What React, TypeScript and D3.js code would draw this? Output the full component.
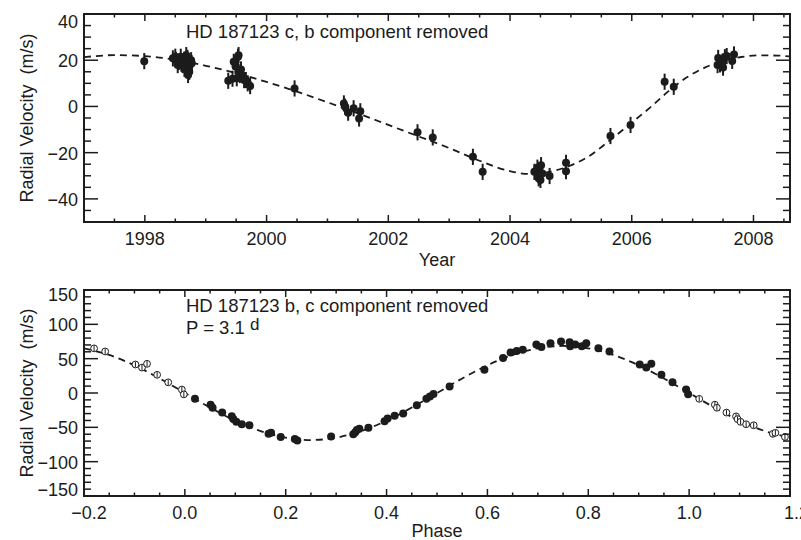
import React, { useEffect } from "react";
import * as d3 from "d3";

// ---------- Top panel: HD 187123 c (b removed) ----------
const TOP_YEARS = [
  1997.99, 1998.46, 1998.5, 1998.51, 1998.54, 1998.56, 1998.59, 1998.6, 1998.62, 1998.65,
  1998.65, 1998.68, 1998.7, 1998.7, 1998.73, 1998.73, 1998.71, 1998.76, 1998.77,
  1999.37, 1999.44, 1999.46, 1999.49, 1999.51, 1999.53, 1999.54, 1999.54, 1999.56, 1999.58,
  1999.63, 1999.66, 1999.69, 1999.73,
  2000.46,
  2001.27, 2001.29, 2001.34, 2001.43, 2001.54, 2001.52,
  2002.48, 2002.73,
  2003.39, 2003.55,
  2004.4, 2004.45, 2004.47, 2004.48, 2004.51, 2004.53, 2004.5, 2004.65,
  2004.92, 2004.92,
  2005.65, 2005.98,
  2006.54, 2006.69,
  2007.41, 2007.42, 2007.45, 2007.49, 2007.5, 2007.53, 2007.56, 2007.65, 2007.68,
];
const TOP_RV = [
  19.6, 20.8, 21.5, 20.1, 17.9, 19.3, 21.5, 18.5, 17.9, 20.3,
  16.3, 22.2, 19.3, 21.0, 17.2, 15.0, 13.6, 20.0, 18.7,
  11.1, 12.0, 19.3, 17.4, 12.2, 21.5, 22.2, 15.0, 13.6, 16.0,
  11.4, 11.4, 10.0, 8.8,
  7.8,
  1.3, -0.1, -2.7, -0.8, -2.1, -5.2,
  -11.2, -13.4,
  -21.8, -28.3,
  -28.3, -26.5, -31.1, -30.4, -25.4, -29.0, -31.8, -30.1,
  -24.4, -28.0,
  -12.8, -8.0,
  10.7, 8.5,
  17.9, 21.0, 18.2, 19.4, 16.8, 21.3, 21.8, 19.7, 22.5,
];
const TOP_ERR = 3.5;

// model curve
const TOP_CURVE_YEARS = [
  1997.0, 1997.5, 1998.0, 1998.5, 1999.0, 1999.5, 2000.0, 2000.5, 2001.0, 2001.5,
  2002.0, 2002.5, 2003.0, 2003.5, 2004.0, 2004.3, 2004.6, 2005.0, 2005.3, 2005.6,
  2006.0, 2006.3, 2006.6, 2006.9, 2007.2, 2007.5, 2007.8, 2008.1, 2008.4, 2008.6,
];
const TOP_CURVE_RV = [
  21.3, 22.2, 21.8, 20.2, 17.6, 14.4, 10.6, 6.4, 1.8, -3.0,
  -8.0, -13.0, -18.0, -23.5, -28.0, -29.2, -28.5, -25.5, -21.5, -15.5,
  -7.0, -0.5, 6.5, 12.5, 16.8, 19.8, 21.4, 22.1, 22.0, 21.6,
];

// ---------- Bottom panel: HD 187123 b (c removed), phased ----------
const PHASES = [
  0.02, 0.051, 0.055, 0.074, 0.093, 0.096, 0.102, 0.113, 0.128, 0.166,
  0.171, 0.19, 0.218, 0.223, 0.29, 0.334, 0.338, 0.341, 0.346, 0.364,
  0.396, 0.402, 0.416, 0.433, 0.46, 0.479, 0.486, 0.493, 0.525, 0.594,
  0.631, 0.646, 0.658, 0.67, 0.697, 0.707, 0.725, 0.746, 0.763, 0.764,
  0.774, 0.787, 0.796, 0.82, 0.842, 0.902, 0.915, 0.925, 0.945, 0.967,
  0.994, 0.998,
];
const PHASE_RV = [
  -8.5, -17, -21.5, -28.5, -34, -38, -42, -45.5, -47, -59.5,
  -58, -64, -67, -69, -63.5, -60, -57, -54, -52, -50.5,
  -41, -37, -33, -30, -18, -8.5, -5, -1.5, 9.5, 34,
  51, 59, 61, 63, 70.5, 67, 72.5, 75, 74, 68,
  70.5, 68, 72.5, 65, 60.5, 41.5, 37, 42.5, 26.5, 15.5,
  5, -2,
];
const PHASE_ERR = 4;

const PHASE_CURVE_X = [
  -0.2, -0.15, -0.1, -0.05, 0.0, 0.05, 0.1, 0.15, 0.2, 0.25, 0.3, 0.35, 0.4, 0.45, 0.5,
  0.55, 0.6, 0.65, 0.7, 0.75, 0.8, 0.85, 0.9, 0.95, 1.0, 1.05, 1.1, 1.15, 1.2,
];
const PHASE_CURVE_RV = [
  65, 55.4, 40.3, 21.2, 0, -21.2, -40.3, -55.4, -65.1, -68.5, -65.1, -55.4, -40.3, -21.2, 0,
  21.2, 40.3, 55.4, 65.1, 68.5, 65.1, 55.4, 40.3, 21.2, 0, -21.2, -40.3, -55.4, -65.1,
];

// ---------- ticks ----------
const TOP_XTICKS = [1998, 2000, 2002, 2004, 2006, 2008];
const TOP_YTICKS = [-40, -20, 0, 20, 40];
const BOT_XTICKS = [-0.2, 0, 0.2, 0.4, 0.6, 0.8, 1.0, 1.2];
const BOT_XLABELS = ["\u22120.2", "0.0", "0.2", "0.4", "0.6", "0.8", "1.0", "1.2"];
const BOT_YTICKS = [-150, -100, -50, 0, 50, 100, 150];

const W = 801;
const H = 540;
const L = 84;
const R = 790;
const FONT = "'Liberation Sans', Arial, Helvetica, sans-serif";
const INK = "#1c1c1c";

const fmtY = (v: number) => (v < 0 ? "\u2212" + Math.abs(v) : String(v));

function Frame({ x, y, xMinor, yMinor, xTicks, yTicks, xLabels, yLabelShift }: any) {
  const [x0, x1] = x.range();
  const [y1, y0] = y.range();
  const items: any[] = [];
  const xt = (v: number, len: number, k: string) => {
    const px = x(v);
    items.push(<line key={"xb" + k} x1={px} x2={px} y1={y1} y2={y1 - len} />);
    items.push(<line key={"xt" + k} x1={px} x2={px} y1={y0} y2={y0 + len} />);
  };
  const yt = (v: number, len: number, k: string) => {
    const py = y(v);
    items.push(<line key={"yl" + k} x1={x0} x2={x0 + len} y1={py} y2={py} />);
    items.push(<line key={"yr" + k} x1={x1} x2={x1 - len} y1={py} y2={py} />);
  };
  xMinor.forEach((v: number, i: number) => xt(v, 3.5, "m" + i));
  xTicks.forEach((v: number, i: number) => xt(v, 7, "M" + i));
  yMinor.forEach((v: number, i: number) => yt(v, 7, "m" + i));
  yTicks.forEach((v: number, i: number) => yt(v, 14, "M" + i));
  return (
    <g>
      <g stroke={INK} strokeWidth={1.5}>{items}</g>
      <rect x={x0} y={y0} width={x1 - x0} height={y1 - y0} fill="none" stroke={INK} strokeWidth={2} />
      <g fontFamily={FONT} fontSize={18} fill={INK}>
        {yTicks.map((v: number, i: number) => (
          <text key={"yl" + i} x={78} y={y(v) + 1 + yLabelShift(i)} textAnchor="end" dominantBaseline="central">
            {fmtY(v)}
          </text>
        ))}
        {xTicks.map((v: number, i: number) => {
          const last = i === xTicks.length - 1;
          const first = i === 0;
          const edge = last && v < 1.5;
          return (
            <text
              key={"xl" + i}
              x={x(v) + (first && v < 0 ? 5 : 0) + (edge ? -6 : 0)}
              y={y1 + 23}
              textAnchor={edge ? "start" : "middle"}
            >
              {xLabels[i]}
            </text>
          );
        })}
      </g>
    </g>
  );
}

export default function App() {
  useEffect(() => {
    document.body.style.margin = "0";
    document.body.style.overflow = "hidden";
  }, []);

  const xTop = d3.scaleLinear().domain([1997.0, 2008.6]).range([L, R]);
  const yTop = d3.scaleLinear().domain([-50, 40]).range([222, 14]);
  const xBot = d3.scaleLinear().domain([-0.2, 1.2]).range([L, R]);
  const yBot = d3.scaleLinear().domain([-150, 150]).range([496, 290]);

  const topLine = d3
    .line<number>()
    .x((d, i) => xTop(TOP_CURVE_YEARS[i]))
    .y((d) => yTop(d))
    .curve(d3.curveMonotoneX);
  const botLine = d3
    .line<number>()
    .x((d, i) => xBot(PHASE_CURVE_X[i]))
    .y((d) => yBot(d))
    .curve(d3.curveMonotoneX);

  const topMinorX = d3.range(1997.5, 2008.6, 0.5).filter((v) => Math.abs(v - Math.round(v / 2) * 2) > 0.01);
  const topMinorY = d3.range(-50, 41, 5).filter((v) => v % 20 !== 0);
  const botMinorX = d3.range(-0.2, 1.2001, 0.05).filter((v) => Math.abs(v / 0.2 - Math.round(v / 0.2)) > 0.01);
  const botMinorY = d3.range(-150, 151, 10).filter((v) => v % 50 !== 0);

  // repeated (open) points outside phase [0,1]
  const openPts: { p: number; v: number }[] = [];
  PHASES.forEach((p, i) => {
    if (p >= 0.8 && p - 1 >= -0.2) openPts.push({ p: p - 1, v: PHASE_RV[i] });
    if (p <= 0.2 && p + 1 <= 1.2) openPts.push({ p: p + 1, v: PHASE_RV[i] });
  });

  return (
    <svg
      width={W}
      height={H}
      viewBox={`0 0 ${W} ${H}`}
      style={{ position: "absolute", left: 0, top: 0, display: "block", background: "#fff" }}
    >
      <defs>
        <clipPath id="clipTop">
          <rect x={L} y={14} width={R - L} height={208} />
        </clipPath>
        <clipPath id="clipBot">
          <rect x={L} y={290} width={R - L} height={206} />
        </clipPath>
      </defs>
      <rect x={0} y={0} width={W} height={H} fill="#fff" />

      {/* ---------- top panel ---------- */}
      <g clipPath="url(#clipTop)">
        <path d={topLine(TOP_CURVE_RV) || ""} fill="none" stroke={INK} strokeWidth={1.8} strokeDasharray="7,5" />
        <g stroke={INK} strokeWidth={2}>
          {TOP_YEARS.map((yr, i) => (
            <line key={i} x1={xTop(yr)} x2={xTop(yr)} y1={yTop(TOP_RV[i] - TOP_ERR)} y2={yTop(TOP_RV[i] + TOP_ERR)} />
          ))}
        </g>
        <g fill={INK}>
          {TOP_YEARS.map((yr, i) => (
            <circle key={i} cx={xTop(yr)} cy={yTop(TOP_RV[i])} r={4} />
          ))}
        </g>
      </g>
      <Frame
        x={xTop}
        y={yTop}
        xMinor={topMinorX}
        yMinor={topMinorY}
        xTicks={TOP_XTICKS}
        yTicks={TOP_YTICKS}
        xLabels={TOP_XTICKS.map(String)}
        yLabelShift={(i: number) => (i === TOP_YTICKS.length - 1 ? 7 : 0)}
      />
      <text x={186} y={38} fontFamily={FONT} fontSize={18.5} fill={INK}>
        HD 187123 c, b component removed
      </text>
      <text x={437} y={266} textAnchor="middle" fontFamily={FONT} fontSize={18} fill={INK}>
        Year
      </text>
      <text
        transform={`translate(33,118) rotate(-90)`}
        textAnchor="middle"
        fontFamily={FONT}
        fontSize={18}
        fill={INK}
        style={{ whiteSpace: "pre" }}
      >
        {"Radial Velocity  (m/s)"}
      </text>

      {/* ---------- bottom panel ---------- */}
      <g clipPath="url(#clipBot)">
        <path d={botLine(PHASE_CURVE_RV) || ""} fill="none" stroke={INK} strokeWidth={1.8} strokeDasharray="7,5" />
        <g fill={INK}>
          {PHASES.map((p, i) => (
            <circle key={i} cx={xBot(p)} cy={yBot(PHASE_RV[i])} r={4} />
          ))}
        </g>
        {openPts.map((d, i) => (
          <g key={i}>
            <circle cx={xBot(d.p)} cy={yBot(d.v)} r={3.4} fill="#fff" stroke={INK} strokeWidth={1} />
            <line
              x1={xBot(d.p)}
              x2={xBot(d.p)}
              y1={yBot(d.v - PHASE_ERR)}
              y2={yBot(d.v + PHASE_ERR)}
              stroke={INK}
              strokeWidth={1}
            />
          </g>
        ))}
      </g>
      <Frame
        x={xBot}
        y={yBot}
        xMinor={botMinorX}
        yMinor={botMinorY}
        xTicks={BOT_XTICKS}
        yTicks={BOT_YTICKS}
        xLabels={BOT_XLABELS}
        yLabelShift={(i: number) => (i === BOT_YTICKS.length - 1 ? 4 : i === 0 ? -7 : 0)}
      />
      <text x={186} y={312} fontFamily={FONT} fontSize={18.5} fill={INK}>
        HD 187123 b, c component removed
      </text>
      <text x={186} y={334} fontFamily={FONT} fontSize={18.5} fill={INK} style={{ whiteSpace: "pre" }}>
        {"P = 3.1 "}
        <tspan dy={-4} fontSize={17}>d</tspan>
      </text>
      <text x={437} y={537} textAnchor="middle" fontFamily={FONT} fontSize={18} fill={INK}>
        Phase
      </text>
      <text
        transform={`translate(33,393) rotate(-90)`}
        textAnchor="middle"
        fontFamily={FONT}
        fontSize={18}
        fill={INK}
        style={{ whiteSpace: "pre" }}
      >
        {"Radial Velocity  (m/s)"}
      </text>
    </svg>
  );
}
